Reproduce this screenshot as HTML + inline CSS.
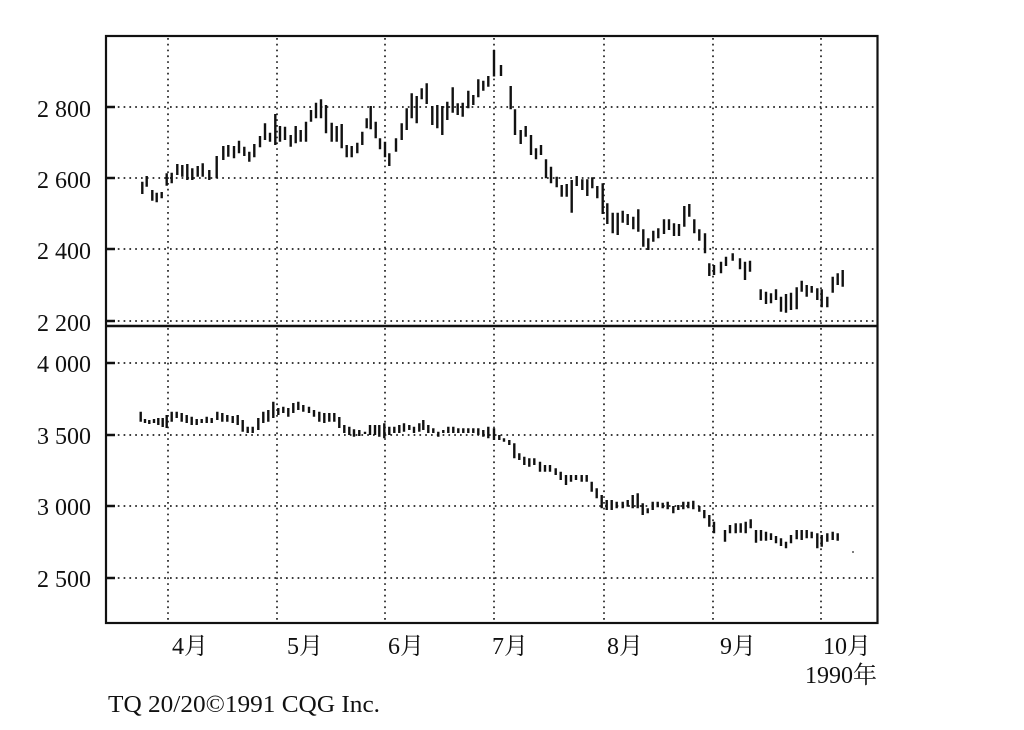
<!DOCTYPE html>
<html>
<head>
<meta charset="utf-8">
<style>
html,body{margin:0;padding:0;background:#fff;}
svg{display:block;}
text{font-family:"Liberation Serif","Noto Serif CJK SC","Noto Sans CJK SC",serif;fill:#111;}
</style>
</head>
<body>
<svg width="1024" height="730" viewBox="0 0 1024 730" xmlns="http://www.w3.org/2000/svg">
<rect x="0" y="0" width="1024" height="730" fill="#fff"/>
<!-- gridlines -->
<g stroke="#222" stroke-width="1.7" stroke-dasharray="1.7 4.1" fill="none">
<path d="M112 107H876M112 178H876M112 249H876M112 321H876"/>
<path d="M112 363H876M112 435H876M112 506H876M112 578H876"/>
<path d="M168 38V621M277 38V621M385 38V621M494 38V621M604 38V621M713 38V621M821 38V621"/>
</g>
<!-- frame -->
<g stroke="#111" fill="none">
<rect x="106" y="36" width="771.5" height="587" stroke-width="2.2"/>
<path d="M106 326H877.5" stroke-width="2.6"/>
<path d="M106 107H115M106 178H115M106 249H115M106 321H115M106 363H115M106 435H115M106 506H115M106 578H115" stroke-width="2.6"/>
</g>
<!-- top bars -->
<path stroke="#111" stroke-width="2.4" fill="none" d="
M142.3 181.7V194M146.7 176V186.7M152.3 190V200.7M156.7 192.7V202.3M161.7 192V198.3M166.7 173.3V185.7M171.7 172.7V183.3M177.3 164V175M182.3 165V176.7M187.3 164V180M192.3 168.3V180M197.7 166V176.7M202.7 163.3V176.7M209.3 170V180M216.7 156V178.3M223.3 146V160M228.3 145V156.7M234 146V158.3M239 140.7V153.3M244.3 146.7V156M249.3 151.7V161.7M254.3 144V157.3M260 136V147.3M265 123.3V140M270 132.7V141.7M275.3 114V145M280 126V141.7M285 126.7V140M290.7 135V146.7M295.7 126V143.3M300.7 130V141.7M306 121.7V141.7M311 110V121.7M316 102.7V118.3M321 99.3V118.3M326 105V133.3M331.7 122.7V141.7M336.7 126V141.7M341.7 124V148.3M346.7 145V157.3M351.7 146V157.3M357.3 142.7V153.3M362.3 131.7V145M366.7 118.3V128.3M370.7 106V129.3M375.7 121.7V138.3M380 138.3V149.3M385 141.7V157.3M389.3 153.3V166M396 138.3V151.7M401.7 123.3V140M406.7 108.3V130M411.7 93.3V118.3M416.7 96V123.3M421.7 88.3V99.3M426.7 83.3V104M432.3 106V125M437.3 105V128.3M442.3 106V135M447.3 101.7V120M452.7 87.3V112.7M457.7 103.3V115M462.7 102.7V116.7M468.3 90.7V108.3M473.3 95V105M478.3 79.3V97.3M483.3 80.7V90.7M488.3 76V86.7M494 50V76.5M501 65V76M510.7 86V109.3M515 109.3V135M520.7 130V144M525.7 126V136.7M531 135V155M536 148.3V159.3M541 145V155M546 159.3V178.3M551 166.7V183.3M556.7 176.7V187.3M561.7 185V196.7M566.7 184V196.7M571.7 180V212.7M576.7 176V186M582.3 179.3V190M587.3 179.3V196M592.3 177.3V188.3M597.3 186V198.3M602.7 183.3V214M607.3 203.3V224M612.7 212.7V233.3M617.7 212.7V235M622.7 210.7V222.7M627.7 214V225M633.3 216.7V229.3M638.3 209.3V231.7M643.3 229.3V246.7M648.3 238.3V250M653.3 230.7V241.7M658.3 228.3V238.3M664 219.3V234M669 219.3V230M674 223.3V236M679 224V236M684.3 206V226.7M689.3 204V216.7M694.3 219.3V233.3M699.3 229.3V240.7M705 233.3V253.3M709.3 263.3V276M714 265V275M721 261.7V273.3M726 256.7V266M732.7 253.3V260.7M740 258.3V269.3M745 261.7V280M750 260.7V271.7M760.7 289.3V300M766 291.7V304M771 293.3V303.3M776 289.3V300M781 296.7V311.7M786 294V312.7M791 292.7V310M796.7 287.3V309.3M801.7 280.7V291.7M806.7 285V296.7M811.7 286V292.7M817.3 288.3V300M821.7 289.3V307.3M827.3 296.7V307.3M832.7 276.7V292.7M837.7 273.3V285M842.7 270V286.7"/>
<!-- bottom bars -->
<path stroke="#111" stroke-width="2.4" fill="none" d="
M140.7 411.7V421.7M145 419V423M149.3 420V424M154 419V423M158.3 418V425M162.7 418V427M166.7 415V428M171.7 411.7V421.7M176.7 411.7V418M181.7 413V421.7M186.7 415V423M191.7 416.7V425M196.7 419V425M201.7 419V423M206.7 416.7V423M211.7 418V423M217.3 411.7V420M222.3 413V421.7M227.3 415V421.7M232.7 416V423M237.7 415V425M242.7 420V431.7M247.7 426.7V433M252.7 426.7V433M258.3 418V430M263.3 411.7V423M268.3 410V421.7M273.3 401.7V418M278.3 408V415M283.3 406.7V413M288.3 408V416.7M293.3 403V413M298.3 401.7V410M303.3 405V411.7M309 406.7V413M314 410V416.7M319.3 411.7V421.7M324.3 413V423M329.3 413V421.7M334.3 413V421.7M339.3 417V428M344.3 425V433M349.3 426.7V435M354 429.3V436.7M359.3 430V436M365 431.7V434M370 425V435M375 425V435M379.3 425V436.7M384.3 423.3V438.3M389.3 426.7V435M394.3 426.7V433M399.3 425V433M404 423.3V431.7M409.3 425V430M414 426.7V433M419.3 423.3V431.7M423.3 420V430M428.3 425V433M433.3 428.3V433M438.3 431.7V436.7M443.3 430V433M448.3 426.7V433M453.3 426.7V433M458.3 428.3V433M463.3 428.3V433M468.3 428.3V433M473.3 428.3V433M478.3 428.3V435M483.3 430V436.7M488.3 426.7V438.3M494 428.3V440M499.3 435V440M504 438.3V441.7M509.3 440V445M514.3 443.3V458.3M519.3 453.3V460M524.3 456.7V465M529.3 458.3V466.7M534.3 458.3V465M540 461.7V471.7M545 465V471.7M550 465V471.7M555.7 468.3V475M560.7 471.7V480M566 475V485M571 475V481.7M576 475V480M581.7 475V481.7M586.7 475V481.7M591.7 481.7V491.7M596.7 488.3V498.3M601.7 495V508.3M606.7 500V510M611.7 500V510M616.7 501.7V508.3M622.7 501.7V508.3M627.7 500V506.7M632.7 495V508.3M637.7 493.3V508.3M642.7 503.3V515M647.7 508.3V513.3M652.7 501.7V510M657.7 501.7V507.3M662.7 502.7V508.3M667.7 501.7V509.3M673.3 506V513.3M678.3 505V510M683.3 501.7V509.3M688.3 501.7V508.3M693.3 500.7V509.3M699.3 506V511.7M704.3 510V518.3M709.3 515V526.7M714 521.7V533.3M725 530V541.7M730 525V533.3M735.7 523.3V533.3M740.7 523.3V532.7M745.7 521.7V533.3M750.7 519.3V528.3M756 530V542.7M761 530V540.7M766 531.7V540.7M771 533.3V540M776 536V543.3M781 538.3V546M786 541.7V548.3M791 535V543.3M796.7 530V539.3M801.7 530V540M806.7 530V538.3M811.7 531.7V538.3M817.3 533.3V548.3M821.7 535V546.7M827.3 533.3V541.7M832.7 531.7V540M837.7 533.3V540.7"/>
<circle cx="853" cy="552" r="1" fill="#555"/>
<!-- y labels -->
<g font-size="24" text-anchor="end">
<text x="91" y="117">2 800</text>
<text x="91" y="188">2 600</text>
<text x="91" y="259">2 400</text>
<text x="91" y="331">2 200</text>
<text x="91" y="372">4 000</text>
<text x="91" y="444">3 500</text>
<text x="91" y="515">3 000</text>
<text x="91" y="587">2 500</text>
</g>
<!-- month labels -->
<g font-size="24">
<text x="172" y="654">4月</text>
<text x="287" y="654">5月</text>
<text x="388" y="654">6月</text>
<text x="492" y="654">7月</text>
<text x="607" y="654">8月</text>
<text x="720" y="654">9月</text>
<text x="823" y="654">10月</text>
<text x="805" y="683">1990年</text>
<text x="108" y="712" textLength="272" lengthAdjust="spacingAndGlyphs">TQ 20/20©1991 CQG Inc.</text>
</g>
</svg>
</body>
</html>
